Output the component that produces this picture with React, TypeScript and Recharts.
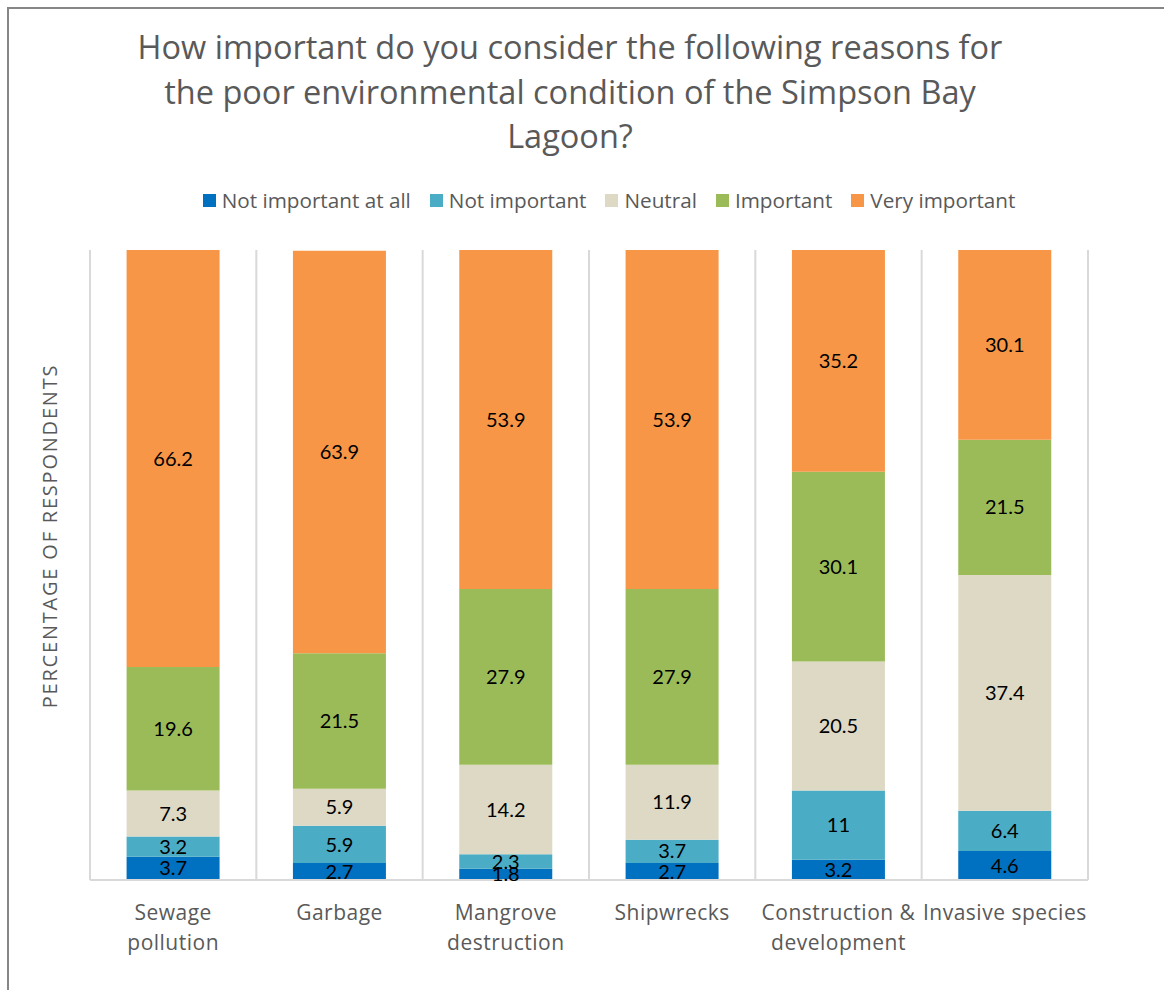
import { BarChart, Bar, XAxis, YAxis, CartesianGrid, LabelList } from "recharts";

const categories = ["Sewage pollution", "Garbage", "Mangrove destruction", "Shipwrecks", "Construction & development", "Invasive species"];
const categoryLines = [["Sewage", "pollution"], ["Garbage"], ["Mangrove", "destruction"], ["Shipwrecks"], ["Construction &", "development"], ["Invasive species"]];
const titleLines = [
  "How important do you consider the following reasons for",
  "the poor environmental condition of the Simpson Bay",
  "Lagoon?",
];
const notImportantAtAll = [3.7, 2.7, 1.8, 2.7, 3.2, 4.6];
const notImportant = [3.2, 5.9, 2.3, 3.7, 11, 6.4];
const neutral = [7.3, 5.9, 14.2, 11.9, 20.5, 37.4];
const important = [19.6, 21.5, 27.9, 27.9, 30.1, 21.5];
const veryImportant = [66.2, 63.9, 53.9, 53.9, 35.2, 30.1];

const series = [
  { key: "Not important at all", values: notImportantAtAll, color: "#0070C0" },
  { key: "Not important", values: notImportant, color: "#4BACC6" },
  { key: "Neutral", values: neutral, color: "#DDD9C4" },
  { key: "Important", values: important, color: "#9BBB59" },
  { key: "Very important", values: veryImportant, color: "#F79646" },
];

const data = categories.map((name, i) => {
  const row: Record<string, string | number> = { name };
  series.forEach((s) => (row[s.key] = s.values[i]));
  return row;
});

const FONT = "'Open Sans', sans-serif";
const NUM_FONT = "Lato, sans-serif";
const GRAY = "#595959";

function XTick(props: any) {
  const { x, y, payload } = props;
  const lines = categoryLines[payload.index] ?? [payload.value];
  return (
    <g>
      {lines.map((l: string, i: number) => (
        <text
          key={i}
          x={x}
          y={y + 32 + i * 30}
          textAnchor="middle"
          fill={GRAY}
          fontSize={21}
          letterSpacing={0.5}
          fontFamily={FONT}
        >
          {l}
        </text>
      ))}
    </g>
  );
}

export default function App() {
  return (
    <div style={{ position: "absolute", left: 0, top: 0, width: 1164, height: 990, background: "#fff", overflow: "hidden" }}>
      <div style={{ position: "absolute", left: 7, top: 7, width: 1200, height: 1100, borderLeft: "2px solid #868686", borderTop: "2px solid #868686" }} />
      <div
        style={{
          position: "absolute",
          left: 70,
          width: 1000,
          top: 25,
          textAlign: "center",
          fontFamily: FONT,
          fontSize: 32.5,
          lineHeight: "44.5px",
          color: GRAY,
          whiteSpace: "nowrap",
        }}
      >
        {titleLines.map((l) => (
          <div key={l}>{l}</div>
        ))}
      </div>
      <div
        style={{
          position: "absolute",
          left: 0,
          width: 1218,
          top: 186,
          display: "flex",
          justifyContent: "center",
          gap: 19,
          fontFamily: FONT,
          fontSize: 20.7,
          color: GRAY,
        }}
      >
        {series.map((s) => (
          <div key={s.key} style={{ display: "flex", alignItems: "center" }}>
            <span style={{ display: "inline-block", width: 13, height: 13, background: s.color, marginRight: 6 }} />
            <span>{s.key}</span>
          </div>
        ))}
      </div>
      <BarChart
        width={1164}
        height={990}
        data={data}
        margin={{ top: 250, right: 76, bottom: 80, left: 40 }}
        barCategoryGap="22%"
        style={{ position: "absolute", left: 0, top: 0 }}
      >
        <CartesianGrid
          horizontal={false}
          stroke="#d9d9d9"
          strokeWidth={2}
          verticalCoordinatesGenerator={({ offset }: any) =>
            categories.map((_, i) => offset.left + ((i + 1) * offset.width) / categories.length).concat([offset.left])
          }
        />
        <XAxis
          dataKey="name"
          axisLine={{ stroke: "#d9d9d9", strokeWidth: 2 }}
          tickLine={false}
          interval={0}
          height={30}
          tick={<XTick />}
        />
        <YAxis
          domain={[0, 100]}
          allowDataOverflow
          width={50}
          axisLine={false}
          tickLine={false}
          tick={false}
          label={{
            value: "PERCENTAGE OF RESPONDENTS",
            angle: -90,
            position: "center",
            dx: -15,
            dy: -29,
            fill: GRAY,
            fontSize: 20,
            letterSpacing: 1.8,
            fontFamily: FONT,
          }}
        />
        {series.map((s) => (
          <Bar key={s.key} dataKey={s.key} stackId="a" fill={s.color} isAnimationActive={false}>
            <LabelList dataKey={s.key} position="center" fill="#000" fontSize={20} fontFamily={NUM_FONT} />
          </Bar>
        ))}
      </BarChart>
    </div>
  );
}
